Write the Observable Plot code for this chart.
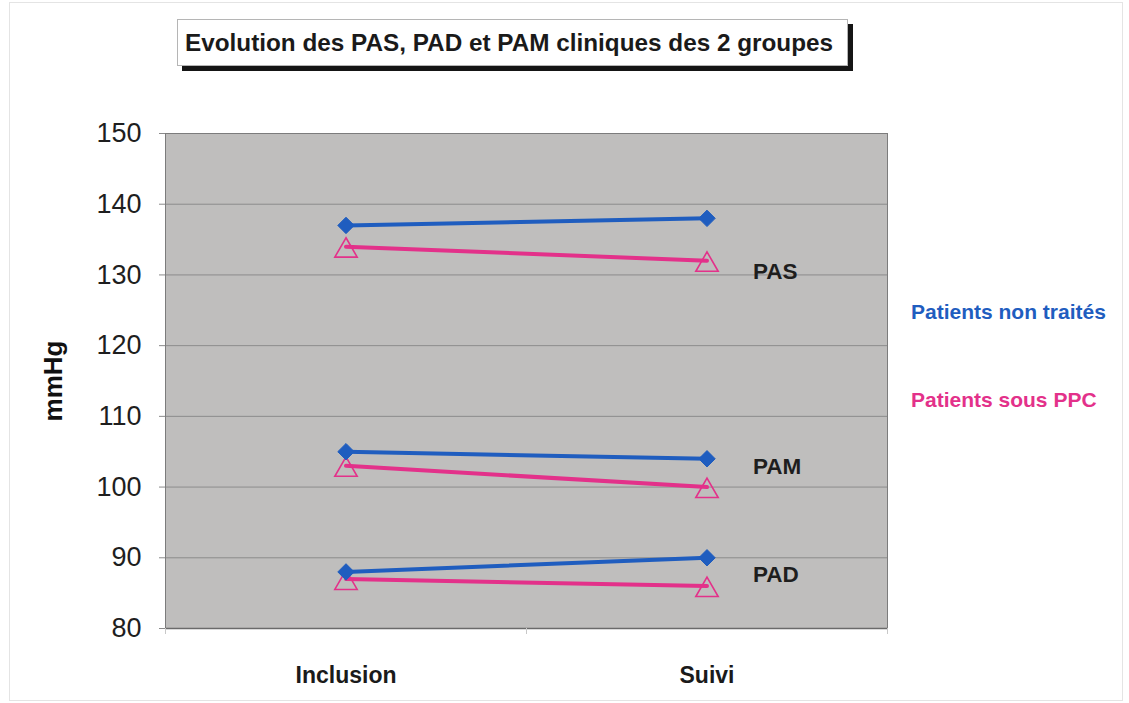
<!DOCTYPE html>
<html>
<head>
<meta charset="utf-8">
<script src="https://cdn.jsdelivr.net/npm/d3@7"></script>
<script src="https://cdn.jsdelivr.net/npm/@observablehq/plot@0.6"></script>
<style>
  html, body { margin: 0; padding: 0; background: #fff; }
  #wrap { position: relative; width: 1129px; height: 703px; overflow: hidden; font-family: Arial, "Liberation Sans", sans-serif; }
  #wrap svg { position: absolute; left: 0; top: 0; }
  #outer { position: absolute; left: 9px; top: 2px; width: 1114px; height: 699px; border: 1px solid #e4e4e4; box-sizing: border-box; }
  #title { position: absolute; left: 177px; top: 19px; width: 671px; height: 47px; box-sizing: border-box;
           background: #fff; border: 1px solid #b5b5b5; box-shadow: 5px 5px 0 #151515;
           font-weight: bold; font-size: 24.3px; color: #1a1a1a; padding-left: 7px; line-height: 45px; white-space: nowrap; }
  .leg { position: absolute; left: 911px; font-weight: bold; font-size: 21px; white-space: nowrap; }
</style>
</head>
<body>
<div id="wrap">
  <div id="outer"></div>
  <div id="chart"></div>
  <div id="title">Evolution des PAS, PAD et PAM cliniques des 2 groupes</div>
  <div class="leg" id="leg0" style="top:300px;"></div>
  <div class="leg" id="leg1" style="top:388px;"></div>
</div>
<script>
// ---- data ----
const categories = ["Inclusion", "Suivi"];
const groups = ["Patients non traités", "Patients sous PPC"];
const groupColors = ["#1f5dbf", "#e3318a"];
const measures = ["PAS", "PAM", "PAD"];
const nonTraitesPAS = [137, 138];
const nonTraitesPAM = [105, 104];
const nonTraitesPAD = [88, 90];
const ppcPAS = [134, 132];
const ppcPAM = [103, 100];
const ppcPAD = [87, 86];
const measureLabelY = [130.5, 102.8, 87.6];
const yTicks = [80, 90, 100, 110, 120, 130, 140, 150];

// ---- build rows ----
const seriesNT = [nonTraitesPAS, nonTraitesPAM, nonTraitesPAD];
const seriesPPC = [ppcPAS, ppcPAM, ppcPAD];
function rows(series, group) {
  const out = [];
  series.forEach((vals, m) => vals.forEach((v, c) => out.push({
    group, measure: measures[m], key: group + measures[m], cat: c + 0.5, value: v
  })));
  return out;
}
const rowsNT = rows(seriesNT, groups[0]);
const rowsPPC = rows(seriesPPC, groups[1]);
const labelRows = measures.map((m, i) => ({measure: m, cat: categories.length - 0.5, value: measureLabelY[i]}));

document.getElementById("leg0").textContent = groups[0];
document.getElementById("leg0").style.color = groupColors[0];
document.getElementById("leg1").textContent = groups[1];
document.getElementById("leg1").style.color = groupColors[1];

const chart = Plot.plot({
  width: 1129,
  height: 703,
  marginLeft: 165,
  marginRight: 242,
  marginTop: 133,
  marginBottom: 75,
  style: {fontFamily: "Arial, 'Liberation Sans', sans-serif", background: "transparent", overflow: "visible"},
  x: {domain: [0, categories.length]},
  y: {domain: [80, 150]},
  marks: [
    Plot.frame({fill: "#bfbebd", stroke: null}),
    Plot.gridY(yTicks, {stroke: "#8c8c8c", strokeOpacity: 1, strokeWidth: 1}),
    Plot.frame({stroke: "#7c7c7c", strokeWidth: 1}),
    Plot.ruleY([80], {stroke: "#6a6a6a", strokeWidth: 1.5}),
    Plot.axisY(yTicks, {tickSize: 6, tickPadding: 18, fontSize: 27, stroke: "#8a8a8a", fill: "#1e1e1e", label: null}),
    Plot.axisX(d3.range(categories.length + 1), {tickSize: 6, tickFormat: () => "", stroke: "#c8c8c8", label: null}),
    Plot.axisX(categories.map((c, i) => i + 0.5), {tickSize: 0, tickPadding: 38, fontSize: 23, fontWeight: "bold", fill: "#1a1a1a",
      tickFormat: d => categories[Math.floor(d)], label: null}),
    // Patients sous PPC
    Plot.line(rowsPPC, {x: "cat", y: "value", z: "key", stroke: groupColors[1], strokeWidth: 4}),
    Plot.dot(rowsPPC, {x: "cat", y: "value", symbol: "triangle", r: 8.3, dy: 4, stroke: groupColors[1], strokeWidth: 1.6, fill: "none"}),
    // Patients non traités
    Plot.line(rowsNT, {x: "cat", y: "value", z: "key", stroke: groupColors[0], strokeWidth: 4}),
    Plot.dot(rowsNT, {x: "cat", y: "value", symbol: "diamond2", r: 7.4, fill: groupColors[0], stroke: groupColors[0], strokeWidth: 1}),
    // measure labels
    Plot.text(labelRows, {x: "cat", y: "value", text: "measure", textAnchor: "start", dx: 46, fontSize: 22.5, fontWeight: "bold", fill: "#1e1e1e"}),
    // y axis title
    Plot.text(["mmHg"], {frameAnchor: "left", textAnchor: "middle", dx: -112, rotate: -90, fontSize: 26, fontWeight: "bold", fill: "#111"})
  ]
});
document.getElementById("chart").appendChild(chart);
</script>
</body>
</html>
